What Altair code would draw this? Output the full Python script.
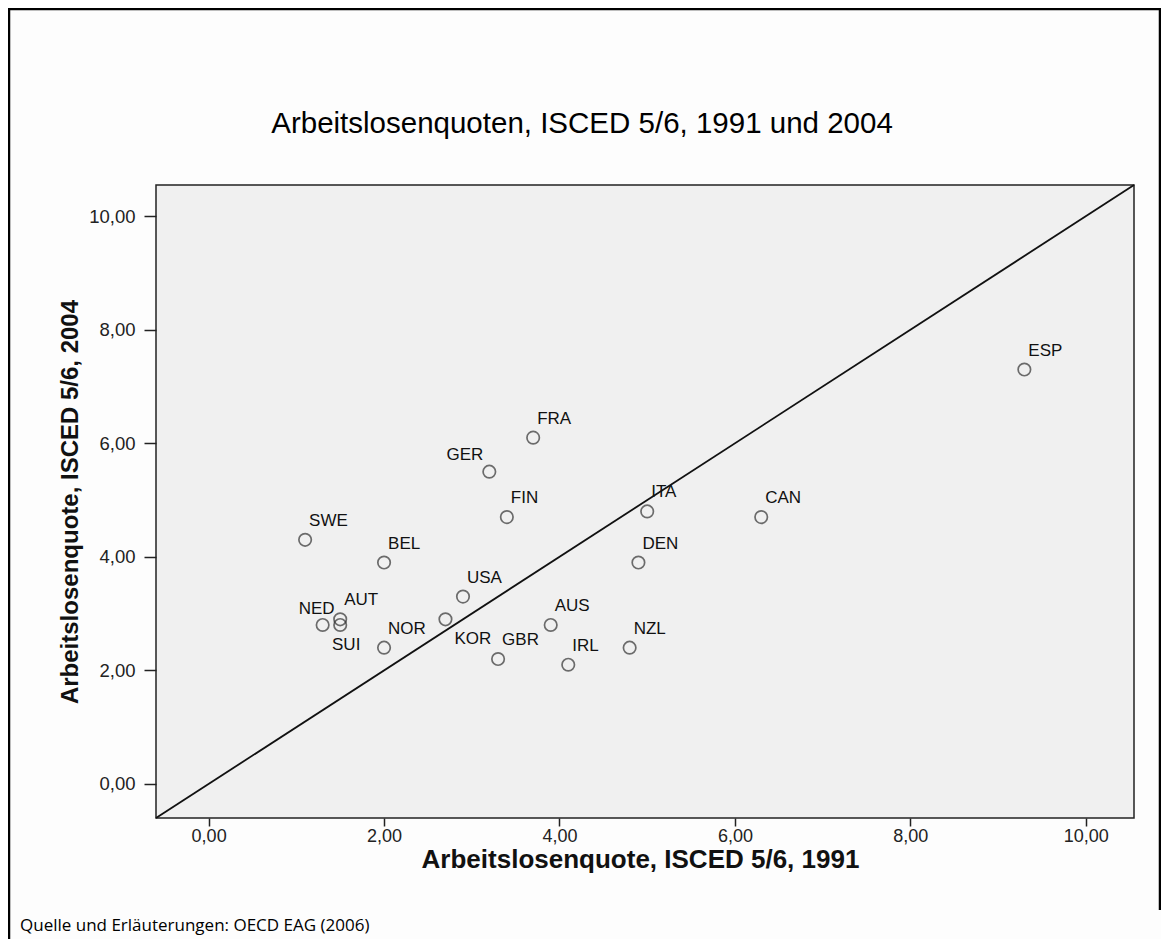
import altair as alt
import pandas as pd

# ---- data ----
countries = ["ESP", "FRA", "GER", "FIN", "ITA", "CAN", "SWE", "BEL", "DEN", "USA",
             "NED", "AUT", "SUI", "NOR", "KOR", "GBR", "AUS", "IRL", "NZL"]
rate_1991 = [9.3, 3.7, 3.2, 3.4, 5.0, 6.3, 1.1, 2.0, 4.9, 2.9,
             1.3, 1.5, 1.5, 2.0, 2.7, 3.3, 3.9, 4.1, 4.8]
rate_2004 = [7.3, 6.1, 5.5, 4.7, 4.8, 4.7, 4.3, 3.9, 3.9, 3.3,
             2.8, 2.9, 2.8, 2.4, 2.9, 2.2, 2.8, 2.1, 2.4]
label_side = ["ur", "ur", "ul", "ur", "ur", "ur", "ur", "ur", "ur", "ur",
              "uc", "ur", "lc", "ur", "lr", "ur", "ur", "ur", "ur"]
tick_values = [0, 2, 4, 6, 8, 10]
axis_domain = [-0.6, 10.55]

title_text = "Arbeitslosenquoten, ISCED 5/6, 1991 und 2004"
x_title = "Arbeitslosenquote, ISCED 5/6, 1991"
y_title = "Arbeitslosenquote, ISCED 5/6, 2004"
footer_text = "Quelle und Erläuterungen: OECD EAG (2006)"

# ---- layout (pixels) ----
W, H = 978, 633
PAD_L, PAD_T, PAD_R, PAD_B = 148, 177, 27, 121
FONT = "Liberation Sans"

df = pd.DataFrame({"country": countries, "x": rate_1991, "y": rate_2004, "side": label_side})
diag = pd.DataFrame({"x": axis_domain, "y": axis_domain})

lbl_expr = "replace(format(datum.value, '.2f'), '.', ',')"
xs = alt.Scale(domain=axis_domain, nice=False, zero=False)
ys = alt.Scale(domain=axis_domain, nice=False, zero=False)

x_axis = alt.Axis(values=tick_values, labelExpr=lbl_expr, title=x_title, grid=False,
                  domain=False, tickSize=8, tickWidth=1.5, tickColor="#222",
                  labelFont=FONT, labelFontSize=18, labelColor="#222", labelPadding=1,
                  titleFont=FONT, titleFontSize=26, titleFontWeight="bold", titleColor="#111",
                  titleX=W / 2 - 5, titleY=41, titleBaseline="middle")
y_axis = alt.Axis(values=tick_values, labelExpr=lbl_expr, title=y_title, grid=False,
                  domain=False, tickSize=12, tickWidth=1.5, tickColor="#222",
                  labelFont=FONT, labelFontSize=18.5, labelColor="#222", labelPadding=9,
                  titleFont=FONT, titleFontSize=24, titleFontWeight="bold", titleColor="#111",
                  titleAngle=270, titleX=-86, titleY=H / 2, titleBaseline="middle",
                  titleAlign="center")

points = alt.Chart(df).mark_point(shape="circle", filled=False, size=155,
                                  stroke="#333", strokeWidth=1.7).encode(
    x=alt.X("x:Q", scale=xs, axis=x_axis),
    y=alt.Y("y:Q", scale=ys, axis=y_axis),
)

line = alt.Chart(diag).mark_line(color="#111", strokeWidth=1.8).encode(
    x=alt.X("x:Q", scale=xs), y=alt.Y("y:Q", scale=ys))

placements = {
    "ur": dict(align="left", dx=4, dy=-19),
    "ul": dict(align="right", dx=-6, dy=-17),
    "uc": dict(align="center", dx=-6, dy=-16),
    "lc": dict(align="center", dx=6, dy=20),
    "lr": dict(align="left", dx=9, dy=20),
}
label_layers = []
for side, p in placements.items():
    label_layers.append(
        alt.Chart(df).transform_filter(alt.datum.side == side).mark_text(
            font=FONT, fontSize=17, color="#111", baseline="middle", **p).encode(
            x=alt.X("x:Q", scale=xs), y=alt.Y("y:Q", scale=ys), text="country:N"))

one = pd.DataFrame({"t": [0]})
title = alt.Chart(one).mark_text(text=title_text, font=FONT, fontSize=29.5, color="#000",
                                 align="center", baseline="middle").encode(
    x=alt.value(426), y=alt.value(-61))
footer = alt.Chart(one).mark_text(text=footer_text, font="Open Sans", fontSize=17, color="#000",
                                  align="left", baseline="middle").encode(
    x=alt.value(-136), y=alt.value(741))

# outer frame
frame_left = alt.Chart(one).mark_rule(color="#000", strokeWidth=2.5).encode(
    x=alt.value(-147), y=alt.value(-177), y2=alt.value(H + PAD_B))
frame_top = alt.Chart(one).mark_rule(color="#000", strokeWidth=2.5).encode(
    x=alt.value(-148), x2=alt.value(1005), y=alt.value(-176))
frame_right = alt.Chart(one).mark_rule(color="#000", strokeWidth=2.5).encode(
    x=alt.value(1004), y=alt.value(-177), y2=alt.value(725))

chart = alt.layer(line, points, *label_layers, title, footer,
                  frame_left, frame_top, frame_right).properties(
    width=W, height=H,
    autosize=alt.AutoSizeParams(type="none"),
    padding={"left": PAD_L, "top": PAD_T, "right": PAD_R, "bottom": PAD_B},
    background="#fdfdfd",
).configure_view(fill="#f0f0f0", stroke="#222", strokeWidth=1.5)

chart.save("out.html", embed_options={"renderer": "svg", "actions": False})
